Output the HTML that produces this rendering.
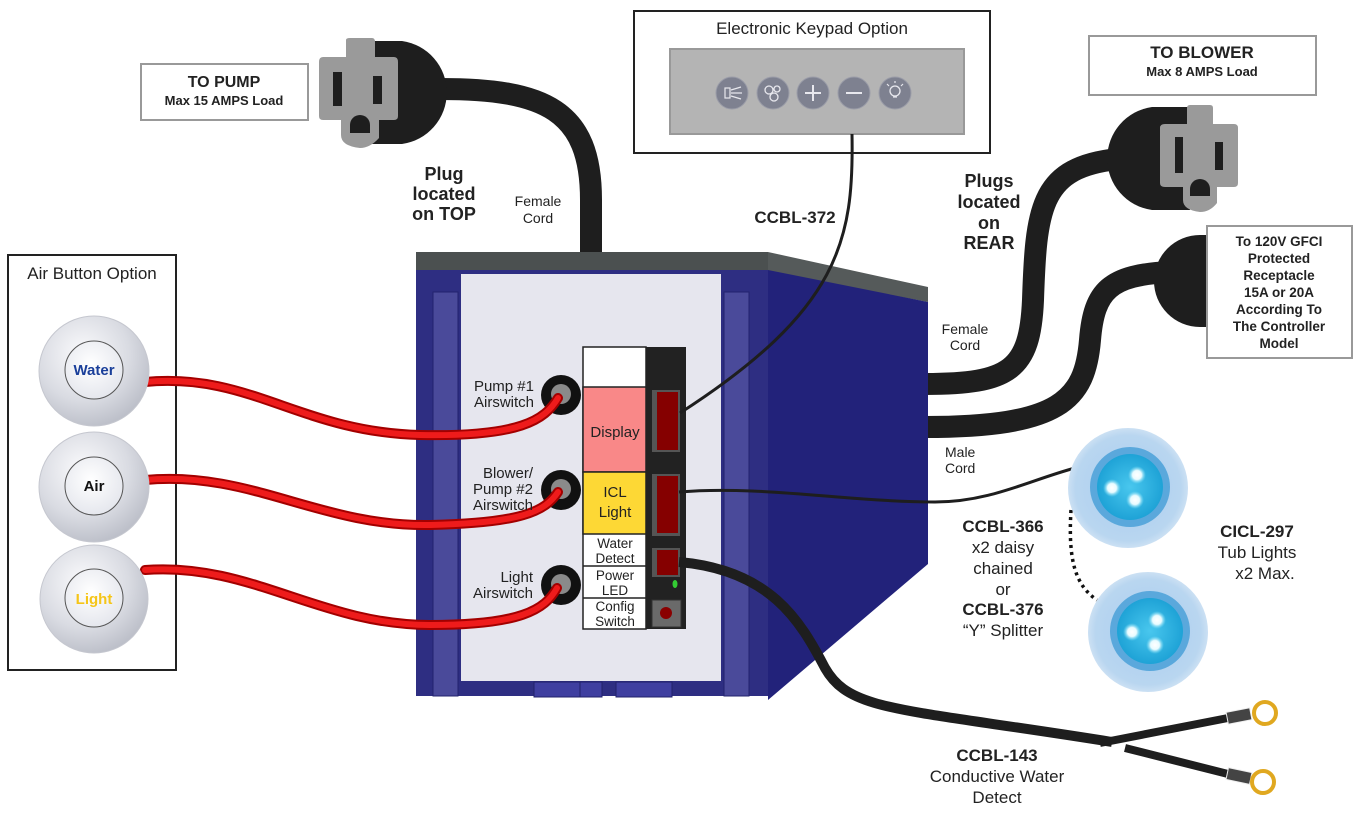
<!DOCTYPE html>
<html><head><meta charset="utf-8"><style>
html,body{margin:0;padding:0;background:#fff;}
svg{display:block;font-family:"Liberation Sans",Arial,sans-serif;}
</style></head><body>
<svg width="1369" height="820" viewBox="0 0 1369 820" xmlns="http://www.w3.org/2000/svg">
<defs>
<radialGradient id="btn" cx="40%" cy="35%" r="70%"><stop offset="0" stop-color="#fbfbfd"/><stop offset="0.6" stop-color="#d9dbe2"/><stop offset="1" stop-color="#b9bcc6"/></radialGradient>
<radialGradient id="btnIn" cx="45%" cy="40%" r="65%"><stop offset="0" stop-color="#ffffff"/><stop offset="1" stop-color="#e3e5ec"/></radialGradient>
<radialGradient id="tubOut" cx="50%" cy="50%" r="55%"><stop offset="0" stop-color="#a9cdee"/><stop offset="0.8" stop-color="#b9d6f0"/><stop offset="1" stop-color="#dbe9f6"/></radialGradient>
<radialGradient id="tubIn" cx="50%" cy="50%" r="55%"><stop offset="0" stop-color="#49c7ee"/><stop offset="1" stop-color="#1a9fd4"/></radialGradient>
<radialGradient id="led" cx="50%" cy="50%" r="50%"><stop offset="0" stop-color="#ffffff"/><stop offset="0.5" stop-color="#e8fbff"/><stop offset="1" stop-color="#7fe0f8" stop-opacity="0"/></radialGradient>
</defs>

<!-- Air button box -->
<rect x="8" y="255" width="168" height="415" fill="#fff" stroke="#222" stroke-width="2"/>
<text x="92" y="279" font-size="17" text-anchor="middle" fill="#222">Air Button Option</text>

<!-- TO PUMP -->
<rect x="141" y="64" width="167" height="56" fill="#fff" stroke="#999" stroke-width="2"/>
<text x="224" y="87" font-size="16" font-weight="bold" text-anchor="middle" fill="#222">TO PUMP</text>
<text x="224" y="105" font-size="13" font-weight="bold" text-anchor="middle" fill="#222">Max 15 AMPS Load</text>

<!-- pump cord & plug -->
<path d="M440,89 C545,89 591,110 591,200 L591,254" fill="none" stroke="#1e1e1e" stroke-width="22"/>
<path d="M372,41 L402,41 A52,52 0 0 1 402,144 L372,144 Z" fill="#1e1e1e"/>
<path d="M346,40 Q346,38 350,38 L372,38 Q375,38 375,42 L375,57 L394,57 Q398,57 398,62 L398,116 Q398,120 394,120 L379,120 L379,138 Q370,148 360,148 Q341,146 341,135 L341,120 L323,120 Q319,120 319,116 L319,62 Q319,57 323,57 L346,57 Z" fill="#9a9a9a"/>
<rect x="333" y="72" width="9" height="34" fill="#1e1e1e"/>
<rect x="373" y="76" width="9" height="28" fill="#1e1e1e"/>
<path d="M350,133 L350,125 A10,10 0 0 1 370,125 L370,133 Z" fill="#1e1e1e"/>

<text font-size="18" font-weight="bold" text-anchor="middle" fill="#222"><tspan x="444" y="180">Plug</tspan><tspan x="444" y="200">located</tspan><tspan x="444" y="220">on TOP</tspan></text>
<text font-size="14" text-anchor="middle" fill="#222"><tspan x="538" y="206">Female</tspan><tspan x="538" y="223">Cord</tspan></text>

<!-- Keypad -->
<rect x="634" y="11" width="356" height="142" fill="#fff" stroke="#222" stroke-width="2"/>
<text x="812" y="34" font-size="17" text-anchor="middle" fill="#222">Electronic Keypad Option</text>
<rect x="670" y="49" width="294" height="85" fill="#b4b4b4" stroke="#999" stroke-width="2"/>
<g fill="#7e8190" stroke="#9a9ca8">
<circle cx="732" cy="93" r="16"/><circle cx="773" cy="93" r="16"/><circle cx="813" cy="93" r="16"/><circle cx="854" cy="93" r="16"/><circle cx="895" cy="93" r="16"/>
</g>
<g stroke="#e8e8ee" stroke-width="2" fill="none">
<line x1="805" y1="93" x2="821" y2="93"/><line x1="813" y1="85" x2="813" y2="101"/>
<line x1="846" y1="93" x2="862" y2="93"/>
<rect x="725" y="88" width="5" height="10" stroke-width="1.2"/><path d="M731,90 L741,87 M731,93 L742,93 M731,96 L741,99" stroke-width="1.2"/>
<circle cx="769" cy="90" r="4" stroke-width="1.3"/><circle cx="777" cy="89" r="3" stroke-width="1.3"/><circle cx="774" cy="97" r="4" stroke-width="1.3"/>
<circle cx="895" cy="91" r="5" stroke-width="1.3"/><path d="M893,97 L897,97 M889,86 L887,84 M901,86 L903,84 M895,83 L895,81" stroke-width="1.2"/>
</g>
<text x="795" y="223" font-size="17" font-weight="bold" text-anchor="middle" fill="#222">CCBL-372</text>

<!-- TO BLOWER -->
<rect x="1089" y="36" width="227" height="59" fill="#fff" stroke="#999" stroke-width="2"/>
<text x="1202" y="58" font-size="17" font-weight="bold" text-anchor="middle" fill="#222">TO BLOWER</text>
<text x="1202" y="76" font-size="13" font-weight="bold" text-anchor="middle" fill="#222">Max 8 AMPS Load</text>

<!-- Rear cords -->
<path d="M925,384 C1010,384 1030,370 1033,300 C1036,210 1040,170 1110,160" fill="none" stroke="#1e1e1e" stroke-width="22"/>
<path d="M925,427 C1060,427 1085,400 1090,340 C1094,290 1110,275 1170,272" fill="none" stroke="#1e1e1e" stroke-width="22"/>
<path d="M1190,107 L1152,107 A52,52 0 0 0 1152,210 L1190,210 Z" fill="#1e1e1e"/>
<path d="M1187,108 Q1187,105 1190,105 L1210,105 Q1213,105 1213,108 L1213,124 L1234,124 Q1238,124 1238,128 L1238,183 Q1238,187 1234,187 L1217,187 L1217,203 Q1210,212 1200,212 Q1183,210 1183,200 L1183,187 L1165,187 Q1160,187 1160,183 L1160,128 Q1160,124 1165,124 L1187,124 Z" fill="#9a9a9a"/>
<rect x="1175" y="137" width="8" height="36" fill="#1e1e1e"/>
<rect x="1215" y="142" width="8" height="28" fill="#1e1e1e"/>
<path d="M1190,196 L1190,189 A10,10 0 0 1 1210,189 L1210,196 Z" fill="#1e1e1e"/>
<path d="M1208,235 L1200,235 A46,46 0 0 0 1200,327 L1208,327 Z" fill="#1e1e1e"/>
<rect x="1207" y="226" width="145" height="132" fill="#fff" stroke="#999" stroke-width="2"/>
<text font-size="13.5" font-weight="bold" text-anchor="middle" fill="#222"><tspan x="1279" y="246">To 120V GFCI</tspan><tspan x="1279" y="263">Protected</tspan><tspan x="1279" y="280">Receptacle</tspan><tspan x="1279" y="297">15A or 20A</tspan><tspan x="1279" y="314">According To</tspan><tspan x="1279" y="331">The Controller</tspan><tspan x="1279" y="348">Model</tspan></text>

<text font-size="18" font-weight="bold" text-anchor="middle" fill="#222"><tspan x="989" y="187">Plugs</tspan><tspan x="989" y="208">located</tspan><tspan x="989" y="229">on</tspan><tspan x="989" y="249">REAR</tspan></text>
<text font-size="14" text-anchor="middle" fill="#222"><tspan x="965" y="334">Female</tspan><tspan x="965" y="350">Cord</tspan></text>
<text font-size="14" fill="#222"><tspan x="945" y="457">Male</tspan><tspan x="945" y="473">Cord</tspan></text>

<!-- Controller box -->
<polygon points="768,252 928,287 928,302 768,272" fill="#555a5a"/>
<polygon points="768,270 928,302 928,564 768,700" fill="#22227a"/>
<rect x="416" y="252" width="352" height="20" fill="#4b5050"/>
<rect x="416" y="270" width="352" height="426" fill="#2e2e82"/>
<rect x="433" y="292" width="25" height="404" fill="#4a4a9a" stroke="#23236e"/>
<rect x="724" y="292" width="25" height="404" fill="#4a4a9a" stroke="#23236e"/>
<rect x="461" y="274" width="260" height="407" fill="#e6e6ee"/>
<rect x="534" y="682" width="46" height="15" fill="#3f3fa0" stroke="#22226a"/>
<rect x="580" y="682" width="22" height="15" fill="#3f3fa0" stroke="#22226a"/>
<rect x="616" y="682" width="56" height="15" fill="#3f3fa0" stroke="#22226a"/>

<!-- label column -->
<rect x="583" y="347" width="63" height="282" fill="#fff" stroke="#222" stroke-width="1.5"/>
<rect x="583" y="387" width="63" height="85" fill="#f98888" stroke="#222" stroke-width="1.5"/>
<rect x="583" y="472" width="63" height="62" fill="#fdd835" stroke="#222" stroke-width="1.5"/>
<line x1="583" y1="566" x2="646" y2="566" stroke="#222" stroke-width="1.5"/>
<line x1="583" y1="598" x2="646" y2="598" stroke="#222" stroke-width="1.5"/>
<g font-size="15" text-anchor="middle" fill="#222">
<text x="615" y="437">Display</text>
<text x="615" y="497">ICL</text><text x="615" y="517">Light</text>
</g>
<g font-size="13.5" text-anchor="middle" fill="#222">
<text x="615" y="548">Water</text><text x="615" y="563">Detect</text>
<text x="615" y="580">Power</text><text x="615" y="595">LED</text>
<text x="615" y="611">Config</text><text x="615" y="626">Switch</text>
</g>
<rect x="646" y="347" width="40" height="282" fill="#222"/>
<rect x="652" y="390" width="28" height="62" fill="#555"/><rect x="657" y="392" width="21" height="58" fill="#850000"/>
<rect x="652" y="474" width="28" height="62" fill="#555"/><rect x="657" y="476" width="21" height="57" fill="#850000"/>
<rect x="652" y="548" width="28" height="29" fill="#555"/><rect x="657" y="550" width="21" height="25" fill="#850000"/>
<ellipse cx="675" cy="584" rx="2.5" ry="4" fill="#3c3"/>
<rect x="652" y="600" width="29" height="27" fill="#6a6a6a" stroke="#333"/>
<circle cx="666" cy="613" r="6" fill="#8a0000"/>

<!-- airswitch ports -->
<g><circle cx="561" cy="395" r="20" fill="#111"/><circle cx="561" cy="394" r="10" fill="#8a8a8a"/>
<circle cx="561" cy="490" r="20" fill="#111"/><circle cx="561" cy="489" r="10" fill="#8a8a8a"/>
<circle cx="561" cy="585" r="20" fill="#111"/><circle cx="561" cy="584" r="10" fill="#8a8a8a"/></g>

<!-- red cables (over box) -->
<g fill="none" stroke-linecap="round">
<path d="M145,382 C250,372 300,432 420,435 C520,437 545,420 558,398" stroke="#a30000" stroke-width="10"/>
<path d="M145,382 C250,372 300,432 420,435 C520,437 545,420 558,398" stroke="#ee1b1b" stroke-width="6"/>
<path d="M145,480 C250,470 320,527 430,525 C520,523 545,512 558,492" stroke="#a30000" stroke-width="10"/>
<path d="M145,480 C250,470 320,527 430,525 C520,523 545,512 558,492" stroke="#ee1b1b" stroke-width="6"/>
<path d="M145,570 C250,562 320,625 430,625 C520,625 545,610 557,588" stroke="#a30000" stroke-width="10"/>
<path d="M145,570 C250,562 320,625 430,625 C520,625 545,610 557,588" stroke="#ee1b1b" stroke-width="6"/>
</g>

<!-- buttons -->
<g>
<circle cx="94" cy="371" r="55" fill="url(#btn)" stroke="#c5c7cf"/>
<circle cx="94" cy="370" r="29" fill="url(#btnIn)" stroke="#555" stroke-width="1"/>
<text x="94" y="375" font-size="15" font-weight="bold" text-anchor="middle" fill="#1a3f9a">Water</text>
<circle cx="94" cy="487" r="55" fill="url(#btn)" stroke="#c5c7cf"/>
<circle cx="94" cy="486" r="29" fill="url(#btnIn)" stroke="#555" stroke-width="1"/>
<text x="94" y="491" font-size="15" font-weight="bold" text-anchor="middle" fill="#111">Air</text>
<circle cx="94" cy="599" r="54" fill="url(#btn)" stroke="#c5c7cf"/>
<circle cx="94" cy="598" r="29" fill="url(#btnIn)" stroke="#555" stroke-width="1"/>
<text x="94" y="604" font-size="15" font-weight="bold" text-anchor="middle" fill="#f5c518">Light</text>
</g>

<g font-size="15" text-anchor="end" fill="#222">
<text x="534" y="391">Pump #1</text><text x="534" y="407">Airswitch</text>
<text x="533" y="478">Blower/</text><text x="533" y="494">Pump #2</text><text x="533" y="510">Airswitch</text>
<text x="533" y="582">Light</text><text x="533" y="598">Airswitch</text>
</g>

<!-- CCBL-372 cable (over box) -->
<path d="M852,134 C854,240 840,310 680,413" fill="none" stroke="#1e1e1e" stroke-width="3"/>
<!-- ICL cable -->
<path d="M679,492 C760,485 850,502 935,502 C990,502 1030,480 1075,468" fill="none" stroke="#1e1e1e" stroke-width="3"/>

<!-- water detect cable -->
<path d="M679,562 C770,570 800,620 825,668 C850,712 900,708 1112,742" fill="none" stroke="#1e1e1e" stroke-width="10"/>
<path d="M1100,743 L1228,718" stroke="#1e1e1e" stroke-width="8"/>
<path d="M1125,748 L1228,774" stroke="#1e1e1e" stroke-width="8"/>
<rect x="1227" y="710" width="24" height="12" fill="#444" stroke="#eee" stroke-width="1" transform="rotate(-11 1239 716)"/>
<rect x="1227" y="770" width="24" height="12" fill="#444" stroke="#eee" stroke-width="1" transform="rotate(12 1239 776)"/>
<circle cx="1265" cy="713" r="11" fill="none" stroke="#e0a820" stroke-width="4"/>
<circle cx="1263" cy="782" r="11" fill="none" stroke="#e0a820" stroke-width="4"/>

<!-- tub lights -->
<path d="M1071,510 C1068,560 1075,585 1097,600" fill="none" stroke="#111" stroke-width="3.5" stroke-dasharray="3,4"/>
<g>
<circle cx="1128" cy="488" r="60" fill="url(#tubOut)"/>
<circle cx="1130" cy="487" r="40" fill="#5aa8dc"/>
<circle cx="1130" cy="487" r="33" fill="url(#tubIn)"/>
<circle cx="1112" cy="488" r="9" fill="url(#led)"/><circle cx="1137" cy="475" r="9" fill="url(#led)"/><circle cx="1135" cy="500" r="9" fill="url(#led)"/>
<circle cx="1148" cy="632" r="60" fill="url(#tubOut)"/>
<circle cx="1150" cy="631" r="40" fill="#5aa8dc"/>
<circle cx="1150" cy="631" r="33" fill="url(#tubIn)"/>
<circle cx="1132" cy="632" r="9" fill="url(#led)"/><circle cx="1157" cy="620" r="9" fill="url(#led)"/><circle cx="1155" cy="645" r="9" fill="url(#led)"/>
</g>

<g font-size="17" text-anchor="middle" fill="#222">
<text x="1003" y="532" font-weight="bold">CCBL-366</text>
<text x="1003" y="553">x2 daisy</text>
<text x="1003" y="574">chained</text>
<text x="1003" y="595">or</text>
<text x="1003" y="615" font-weight="bold">CCBL-376</text>
<text x="1003" y="636">“Y” Splitter</text>
<text x="1257" y="537" font-weight="bold">CICL-297</text>
<text x="1257" y="558">Tub Lights</text>
<text x="1265" y="579">x2 Max.</text>
<text x="997" y="761" font-weight="bold">CCBL-143</text>
<text x="997" y="782">Conductive Water</text>
<text x="997" y="803">Detect</text>
</g>
</svg>
</body></html>
